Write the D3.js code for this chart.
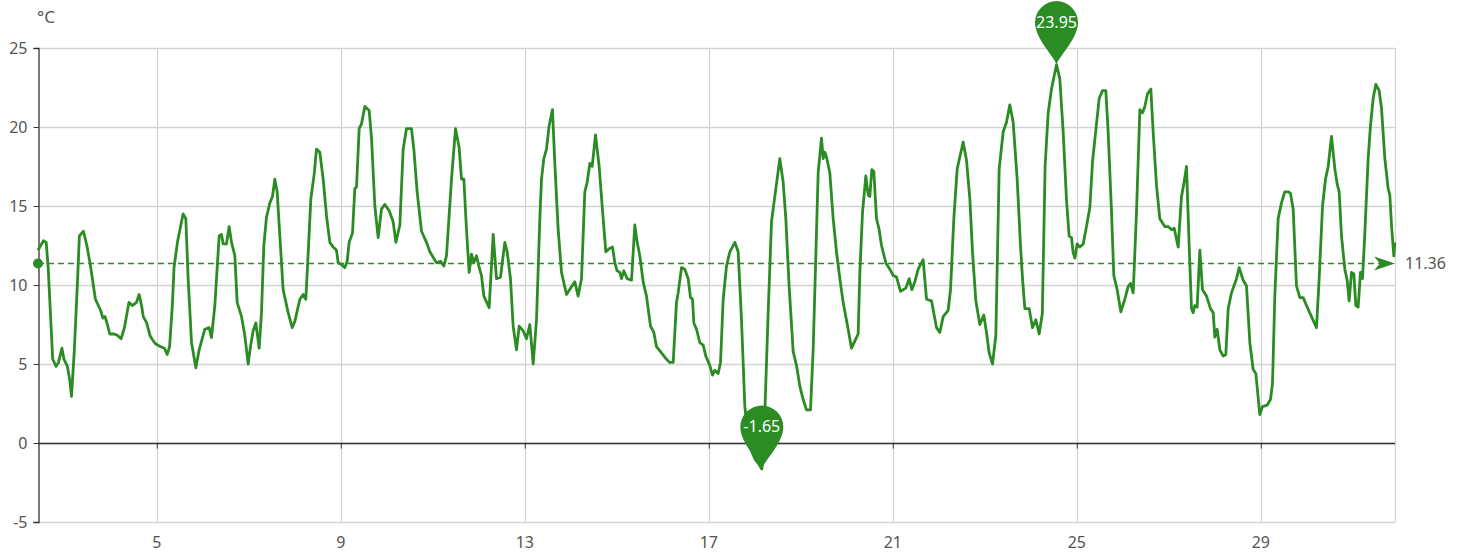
<!DOCTYPE html>
<html>
<head>
<meta charset="utf-8">
<script src="https://cdn.jsdelivr.net/npm/d3@7"></script>
<style>
  body { margin: 0; background: #fff; }
  text { font-family: "Noto Sans", "Open Sans", sans-serif; }
</style>
</head>
<body>
<div class="chart"></div>
<script>
// day of month (fractional) for each reading
var days = [
  2.417, 2.536, 2.595, 2.64, 2.699, 2.736, 2.81, 2.862, 2.937, 2.981, 3.056, 3.108, 3.145, 3.204, 3.278, 3.316, 3.405, 3.479, 3.553, 3.665,
  3.776, 3.828, 3.873, 3.925, 3.977, 4.073, 4.148, 4.222, 4.296, 4.393, 4.467, 4.557, 4.616, 4.668, 4.705, 4.779, 4.853, 4.891, 4.965, 5.076,
  5.166, 5.225, 5.277, 5.337, 5.374, 5.448, 5.522, 5.572, 5.630, 5.681, 5.754, 5.848, 5.920, 6.043, 6.138, 6.188, 6.261, 6.355, 6.406, 6.442,
  6.514, 6.572, 6.623, 6.696, 6.746, 6.841, 6.913, 6.986, 7.036, 7.094, 7.152, 7.225, 7.275, 7.326, 7.384, 7.457, 7.514, 7.565, 7.616, 7.674,
  7.746, 7.855, 7.942, 8.0, 8.109, 8.181, 8.239, 8.290, 8.348, 8.420, 8.471, 8.543, 8.616, 8.688, 8.761, 8.833, 8.906, 8.942, 9.014, 9.087,
  9.138, 9.181, 9.254, 9.304, 9.341, 9.399, 9.449, 9.522, 9.616, 9.667, 9.739, 9.812, 9.884, 9.957, 10.051, 10.138, 10.196, 10.283, 10.355, 10.428,
  10.536, 10.587, 10.659, 10.754, 10.862, 10.935, 11.080, 11.167, 11.239, 11.297, 11.406, 11.493, 11.572, 11.623, 11.674, 11.732, 11.790, 11.841, 11.891, 11.949,
  12.0, 12.058, 12.109, 12.225, 12.312, 12.384, 12.471, 12.565, 12.616, 12.688, 12.746, 12.819, 12.877, 12.964, 13.036, 13.109, 13.181, 13.254, 13.326, 13.362,
  13.413, 13.471, 13.529, 13.601, 13.652, 13.725, 13.797, 13.906, 13.993, 14.087, 14.159, 14.232, 14.304, 14.355, 14.413, 14.464, 14.536, 14.616, 14.681, 14.761,
  14.833, 14.906, 14.957, 15.007, 15.065, 15.101, 15.152, 15.225, 15.319, 15.391, 15.442, 15.5, 15.572, 15.645, 15.732, 15.804, 15.862, 15.971, 16.080, 16.152,
  16.225, 16.297, 16.333, 16.406, 16.478, 16.551, 16.601, 16.645, 16.674, 16.732, 16.804, 16.877, 16.935, 17.022, 17.080, 17.130, 17.203, 17.254, 17.312, 17.384,
  17.457, 17.565, 17.638, 17.710, 17.783, 17.855, 17.93, 18.0, 18.08, 18.152, 18.185, 18.217, 18.290, 18.362, 18.457, 18.543, 18.616, 18.674, 18.746, 18.833,
  18.906, 18.978, 19.051, 19.123, 19.210, 19.268, 19.326, 19.377, 19.449, 19.486, 19.522, 19.558, 19.630, 19.703, 19.775, 19.848, 19.920, 20.029, 20.101, 20.174,
  20.246, 20.283, 20.341, 20.413, 20.464, 20.500, 20.543, 20.587, 20.645, 20.703, 20.754, 20.848, 20.935, 21.007, 21.080, 21.167, 21.283, 21.355, 21.413, 21.478,
  21.551, 21.659, 21.732, 21.841, 21.949, 22.022, 22.094, 22.203, 22.254, 22.326, 22.399, 22.529, 22.601, 22.674, 22.732, 22.804, 22.891, 22.978, 23.036, 23.094,
  23.167, 23.239, 23.312, 23.399, 23.471, 23.543, 23.616, 23.703, 23.775, 23.819, 23.870, 23.964, 24.036, 24.109, 24.181, 24.25, 24.31, 24.377, 24.449, 24.558,
  24.630, 24.703, 24.775, 24.833, 24.884, 24.920, 24.957, 25.007, 25.065, 25.138, 25.210, 25.283, 25.341, 25.391, 25.486, 25.558, 25.630, 25.681, 25.754, 25.804,
  25.877, 25.957, 26.043, 26.116, 26.167, 26.225, 26.297, 26.370, 26.428, 26.478, 26.536, 26.609, 26.659, 26.732, 26.804, 26.913, 26.986, 27.058, 27.116, 27.203,
  27.275, 27.326, 27.384, 27.442, 27.493, 27.529, 27.565, 27.616, 27.674, 27.732, 27.819, 27.906, 27.964, 28.0, 28.051, 28.109, 28.181, 28.239, 28.290, 28.362,
  28.471, 28.529, 28.616, 28.688, 28.761, 28.833, 28.891, 28.978, 29.036, 29.138, 29.210, 29.254, 29.304, 29.377, 29.449, 29.522, 29.594, 29.645, 29.703, 29.775,
  29.848, 29.920, 29.993, 30.101, 30.210, 30.268, 30.341, 30.406, 30.464, 30.536, 30.609, 30.659, 30.703, 30.754, 30.826, 30.877, 30.920, 30.971, 31.022, 31.065,
  31.116, 31.167, 31.210, 31.261, 31.333, 31.384, 31.442, 31.500, 31.572, 31.623, 31.696, 31.768, 31.804, 31.841, 31.891, 31.913
];
// temperature in °C
var temps = [
  12.2, 12.8, 12.7, 11.0, 7.5, 5.3, 4.85, 5.1, 6.0, 5.3, 4.85, 3.95, 2.95, 5.75, 10.4, 13.1, 13.4, 12.5, 11.3, 9.1,
  8.4, 7.9, 8.0, 7.5, 6.9, 6.9, 6.8, 6.6, 7.3, 8.9, 8.7, 8.9, 9.4, 8.7, 8.0, 7.6, 6.8, 6.6, 6.3, 6.1,
  6.0, 5.6, 6.1, 8.7, 11.1, 12.7, 13.8, 14.5, 14.2, 10.4, 6.35, 4.76, 5.9, 7.2, 7.3, 6.67, 8.7, 13.1, 13.2, 12.6,
  12.6, 13.7, 12.7, 11.85, 8.9, 8.0, 6.8, 5.0, 6.1, 7.1, 7.6, 6.0, 8.25, 12.5, 14.3, 15.2, 15.6, 16.7, 15.9, 13.1,
  9.7, 8.25, 7.3, 7.7, 9.1, 9.4, 9.1, 12.0, 15.45, 17.0, 18.6, 18.4, 16.7, 14.4, 12.7, 12.4, 12.2, 11.4, 11.3, 11.1,
  11.5, 12.7, 13.3, 16.1, 16.2, 19.9, 20.2, 21.3, 21.05, 19.3, 15.0, 13.0, 14.8, 15.1, 14.7, 14.0, 12.7, 13.8, 18.6, 19.9,
  19.9, 18.6, 15.9, 13.4, 12.7, 12.1, 11.4, 11.5, 11.2, 11.85, 16.7, 19.9, 18.7, 16.7, 16.7, 13.5, 10.8, 11.95, 11.4, 11.85,
  11.2, 10.6, 9.3, 8.57, 13.2, 10.4, 10.5, 12.7, 12.1, 10.4, 7.4, 5.9, 7.4, 7.1, 6.6, 7.5, 5.0, 7.8, 14.2, 16.7,
  18.0, 18.6, 20.1, 21.1, 17.7, 13.5, 10.8, 9.4, 9.8, 10.2, 9.3, 10.4, 15.9, 16.5, 17.7, 17.5, 19.5, 17.5, 15.0, 12.1,
  12.3, 12.4, 11.4, 10.9, 10.8, 10.4, 10.9, 10.4, 10.3, 13.8, 12.7, 11.85, 10.2, 9.3, 7.4, 7.0, 6.1, 5.7, 5.3, 5.1,
  5.1, 8.9, 9.5, 11.1, 11.0, 10.4, 9.2, 9.1, 7.6, 7.2, 6.35, 6.2, 5.5, 4.9, 4.3, 4.6, 4.4, 5.1, 9.1, 11.2,
  12.1, 12.7, 12.1, 7.8, 2.3, 0.4, -0.5, -1.0, -1.3, -1.65, -0.9, 1.9, 8.25, 14.0, 16.1, 18.0, 16.5, 14.2, 9.9, 5.8,
  4.9, 3.6, 2.75, 2.1, 2.1, 5.9, 11.85, 17.1, 19.3, 18.0, 18.4, 18.1, 17.1, 14.2, 12.1, 10.4, 8.9, 7.2, 6.0, 6.45,
  6.9, 10.8, 14.6, 16.9, 15.7, 15.6, 17.3, 17.2, 14.2, 13.5, 12.5, 11.4, 11.0, 10.6, 10.5, 9.6, 9.8, 10.4, 9.7, 10.2,
  11.0, 11.6, 9.1, 9.0, 7.3, 7.0, 8.0, 8.4, 9.7, 14.2, 17.35, 19.05, 17.9, 15.45, 12.1, 9.0, 7.5, 8.1, 7.0, 5.7,
  5.0, 6.8, 17.35, 19.7, 20.3, 21.4, 20.3, 16.7, 12.5, 10.4, 8.5, 8.5, 7.3, 7.8, 6.9, 8.2, 17.5, 20.9, 22.4, 23.95,
  23.05, 19.7, 15.4, 13.1, 13.0, 12.05, 11.7, 12.6, 12.4, 12.6, 13.7, 14.9, 17.8, 19.2, 21.8, 22.3, 22.3, 19.7, 14.6, 10.6,
  9.7, 8.3, 9.1, 9.9, 10.1, 9.5, 14.6, 21.1, 20.9, 21.3, 22.1, 22.4, 19.7, 16.3, 14.2, 13.7, 13.7, 13.5, 13.6, 12.4,
  15.6, 16.4, 17.5, 12.5, 8.5, 8.25, 8.7, 8.6, 12.2, 9.7, 9.3, 8.5, 8.25, 6.7, 7.2, 5.9, 5.5, 5.6, 8.5, 9.5,
  10.4, 11.1, 10.3, 9.95, 6.35, 4.65, 4.4, 1.8, 2.3, 2.4, 2.75, 3.8, 9.3, 14.2, 15.2, 15.9, 15.9, 15.8, 14.8, 9.95,
  9.2, 9.2, 8.7, 8.0, 7.3, 10.4, 15.0, 16.7, 17.5, 19.4, 17.35, 16.4, 15.9, 13.1, 11.0, 10.3, 9.0, 10.8, 10.7, 8.7,
  8.6, 10.8, 10.4, 13.3, 18.0, 20.1, 21.8, 22.7, 22.3, 21.2, 18.0, 16.1, 15.7, 13.75, 11.85, 12.7
];
var dayTicks = [5, 9, 13, 17, 21, 25, 29];
var tempTicks = [-5, 0, 5, 10, 15, 20, 25];
var meanTemp = 11.36;
var unitName = '°C';

var W = 1467, H = 553;
var m = { left: 38, right: 72, top: 48, bottom: 31 };
var green = '#2a8c22';

var data = days.map(function (d, i) { return { day: d, t: temps[i] }; });

var x = d3.scaleLinear()
          .domain([2 + 10 / 24, 31 + 22 / 24])
          .range([m.left, W - m.right]);
var y = d3.scaleLinear()
          .domain([-5, 25])
          .range([H - m.bottom, m.top]);

var svg = d3.select('.chart').append('svg')
            .attr('width', W)
            .attr('height', H);

// horizontal grid lines
svg.append('g')
   .selectAll('line')
   .data(tempTicks)
   .enter().append('line')
   .attr('x1', m.left).attr('x2', W - m.right)
   .attr('y1', function (d) { return Math.round(y(d)) + 0.5; })
   .attr('y2', function (d) { return Math.round(y(d)) + 0.5; })
   .attr('stroke', '#d4d4d4').attr('stroke-width', 1.3);

// vertical grid lines (plus right border)
svg.append('g')
   .selectAll('line')
   .data(dayTicks.concat([x.domain()[1]]))
   .enter().append('line')
   .attr('x1', function (d) { return Math.round(x(d)) + 0.5; })
   .attr('x2', function (d) { return Math.round(x(d)) + 0.5; })
   .attr('y1', y(25)).attr('y2', y(-5))
   .attr('stroke', '#d4d4d4').attr('stroke-width', 1.3);

// y axis
var yAxis = d3.axisLeft(y).tickValues(tempTicks).tickSize(5).tickPadding(6)
              .tickFormat(function (d) { return String(d); });
var gy = svg.append('g')
   .attr('transform', 'translate(' + (m.left + 0.5) + ',0)')
   .call(yAxis);
gy.select('.domain').attr('stroke', '#333').attr('stroke-width', 1.3);
gy.selectAll('.tick line').attr('stroke', '#333');
gy.selectAll('text').attr('fill', '#555').style('font-size', '16px');

// x axis line sits on zero, labels at the bottom
var gx = svg.append('g')
   .attr('transform', 'translate(0,' + (Math.round(y(0)) + 0.5) + ')')
   .call(d3.axisBottom(x).tickValues(dayTicks).tickSize(5).tickFormat(''));
gx.select('.domain').attr('stroke', '#333').attr('stroke-width', 1.3)
  .attr('d', 'M' + m.left + ',0H' + (W - m.right));
gx.selectAll('.tick line').attr('stroke', '#333');

svg.append('g')
   .selectAll('text')
   .data(dayTicks)
   .enter().append('text')
   .attr('x', function (d) { return x(d); })
   .attr('y', y(-5) + 26)
   .attr('text-anchor', 'middle')
   .attr('fill', '#555')
   .style('font-size', '16px')
   .text(function (d) { return d; });

// unit name
svg.append('text')
   .attr('x', m.left + 8).attr('y', 23)
   .attr('text-anchor', 'middle')
   .attr('fill', '#555')
   .style('font-size', '17px')
   .text(unitName);

// temperature line
var line = d3.line()
             .x(function (d) { return x(d.day); })
             .y(function (d) { return y(d.t); });
svg.append('path')
   .datum(data)
   .attr('d', line)
   .attr('fill', 'none')
   .attr('stroke', green)
   .attr('stroke-width', 2.8)
   .attr('stroke-linejoin', 'round');

// average mark line
var ym = y(meanTemp);
svg.append('line')
   .attr('x1', m.left).attr('x2', W - m.right - 14)
   .attr('y1', ym).attr('y2', ym)
   .attr('stroke', green).attr('stroke-width', 1.3)
   .attr('stroke-dasharray', '6,4');
svg.append('circle')
   .attr('cx', m.left).attr('cy', ym).attr('r', 5)
   .attr('fill', green);
svg.append('path')
   .attr('transform', 'translate(' + (W - m.right) + ',' + ym + ')')
   .attr('d', 'M0,0L-21,-7L-15,0L-21,7Z')
   .attr('fill', green);
svg.append('text')
   .attr('x', W - m.right + 10).attr('y', ym + 5.5)
   .attr('fill', '#555')
   .style('font-size', '16px')
   .text(meanTemp.toFixed(2));

// min / max pins
var maxPt = data.reduce(function (a, b) { return b.t > a.t ? b : a; });
var minPt = data.reduce(function (a, b) { return b.t < a.t ? b : a; });
var pin = 'M0,0C-3,-9 -21.5,-26 -21.5,-42A21.5,21.5 0 1 1 21.5,-42C21.5,-26 3,-9 0,0Z';
[maxPt, minPt].forEach(function (p) {
  var g = svg.append('g')
             .attr('transform', 'translate(' + x(p.day) + ',' + y(p.t) + ')');
  g.append('path').attr('d', pin).attr('fill', green);
  g.append('text')
   .attr('y', -37)
   .attr('text-anchor', 'middle')
   .attr('fill', '#fff')
   .style('font-size', '16px')
   .text(p.t.toFixed(2));
});
</script>
</body>
</html>
